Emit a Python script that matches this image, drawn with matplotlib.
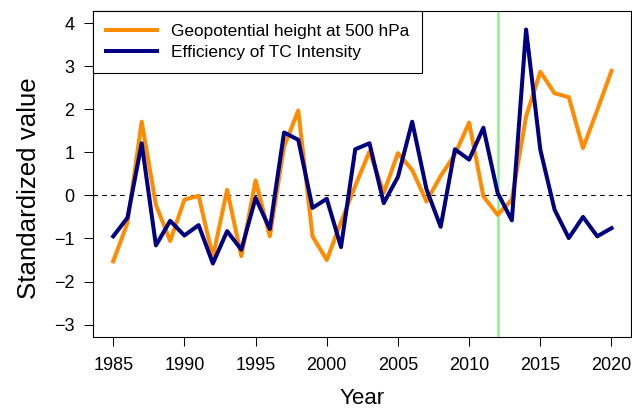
import matplotlib
matplotlib.use("Agg")
import matplotlib.pyplot as plt

plt.rcParams["font.family"] = ["Liberation Sans", "DejaVu Sans"]

years = list(range(1985, 2021))
geopotential = [-1.53, -0.64, 1.71, -0.22, -1.06, -0.10, -0.01, -1.43, 0.13, -1.41,
                0.35, -0.95, 1.13, 1.97, -0.95, -1.50, -0.62, 0.22, 1.02, 0.06,
                0.98, 0.59, -0.14, 0.45, 0.95, 1.69, -0.02, -0.45, -0.10, 1.83,
                2.87, 2.37, 2.28, 1.10, 1.98, 2.89]
efficiency = [-0.95, -0.52, 1.21, -1.16, -0.59, -0.93, -0.69, -1.58, -0.83, -1.26,
              -0.06, -0.78, 1.46, 1.29, -0.29, -0.08, -1.20, 1.07, 1.21, -0.18,
              0.43, 1.71, 0.15, -0.73, 1.07, 0.83, 1.57, 0.06, -0.58, 3.85,
              1.06, -0.33, -0.99, -0.50, -0.95, -0.76]
break_year = 2012

fig = plt.figure(figsize=(6.32, 4.13), dpi=100)
ax = fig.add_axes([0.1476, 0.1847, 0.8515, 0.7887])

ax.axhline(0, color="black", lw=0.8, linestyle=(0, (4, 4)), zorder=1)
ax.axvline(break_year, color="lightgreen", lw=1.8, zorder=2)
ax.plot(years, geopotential, color="darkorange", lw=2.9, zorder=3,
        label="Geopotential height at 500 hPa")
ax.plot(years, efficiency, color="navy", lw=2.9, zorder=4,
        label="Efficiency of TC Intensity")

ax.set_xlim(1983.6, 2021.4)
ax.set_ylim(-3.28, 4.28)
ax.set_xticks(range(1985, 2021, 5))
ax.set_yticks(range(-3, 5))
ax.tick_params(labelsize=13, length=6.5, width=0.75, pad=7)
ax.tick_params(axis="x", pad=8)
for s in ax.spines.values():
    s.set_linewidth(0.8)

ax.set_xlabel("Year", fontsize=16, labelpad=10)
ax.set_ylabel("Standardized value", fontsize=18.6)
ax.yaxis.set_label_coords(-0.097, 0.457)

leg = ax.legend(loc="upper left", bbox_to_anchor=(0, 1), borderaxespad=0,
                fontsize=12.4, fancybox=False, edgecolor="black", framealpha=1,
                handlelength=2.96, handletextpad=0.8, borderpad=0.75,
                labelspacing=0.35)
leg.get_frame().set_linewidth(0.8)

fig.savefig("out.png", dpi=100)
